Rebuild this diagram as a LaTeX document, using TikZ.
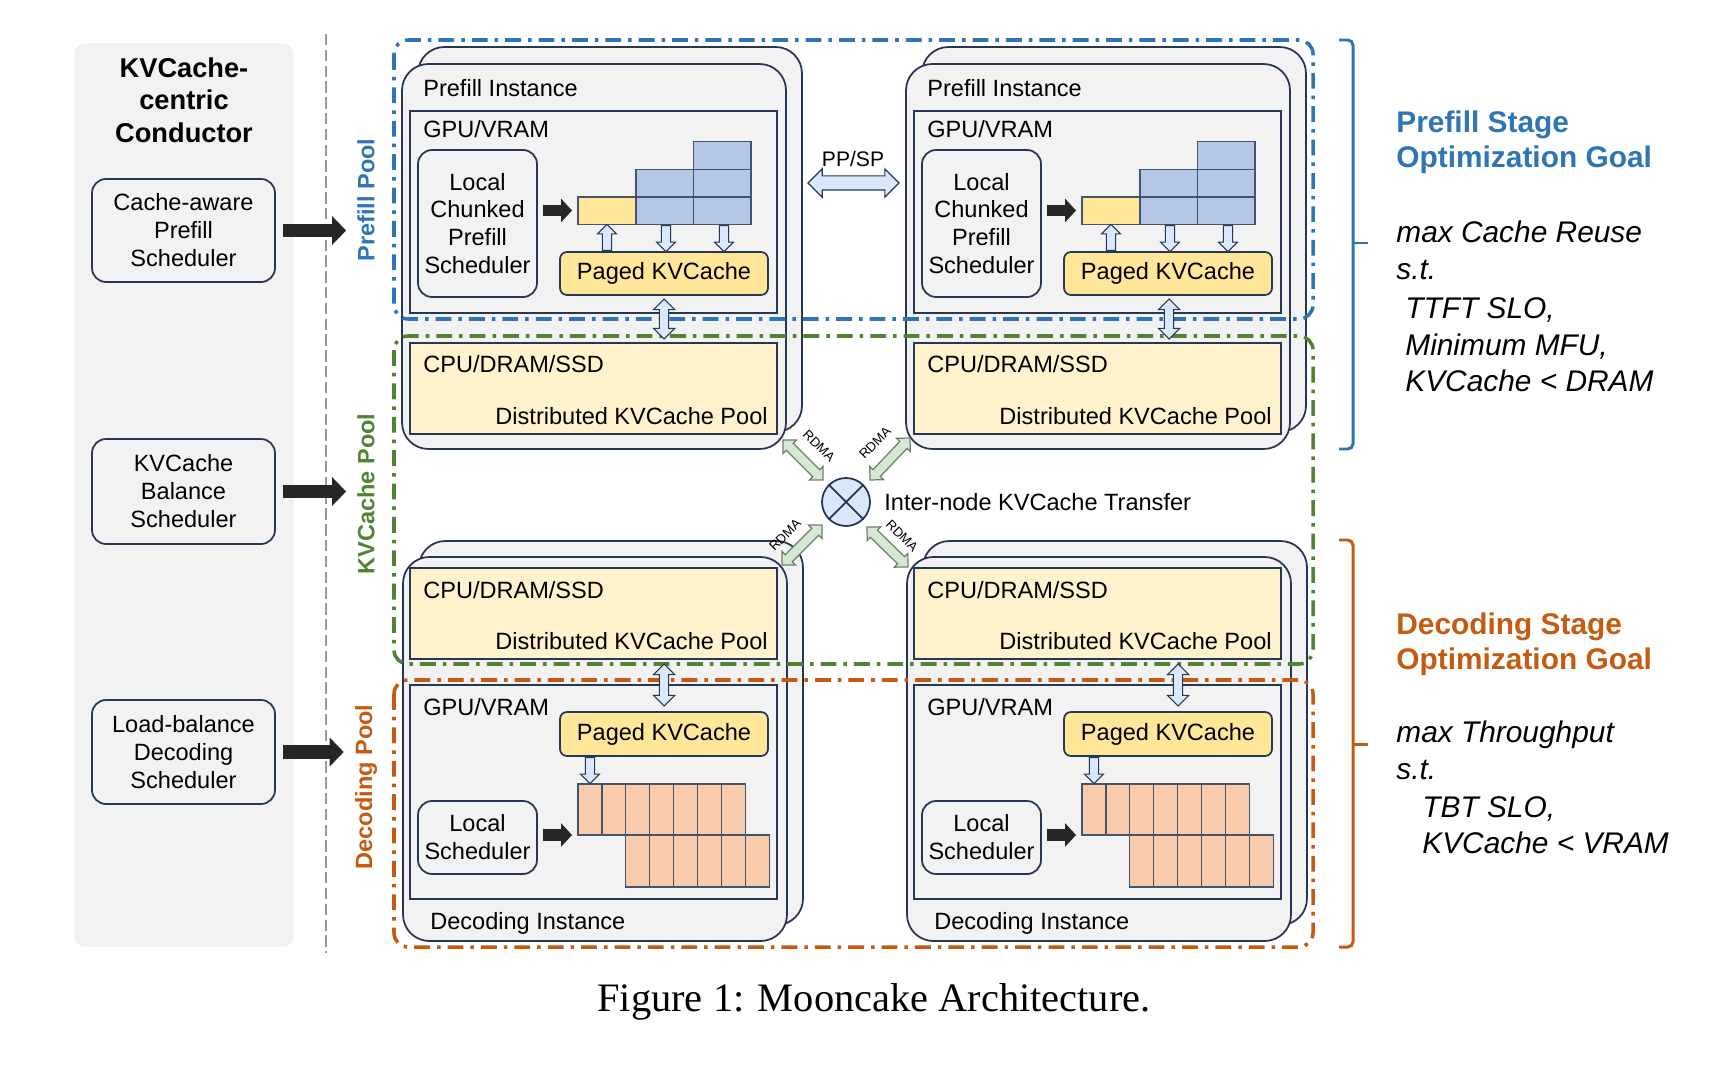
\documentclass[tikz,border=0pt]{standalone}
\usepackage{fontspec}
\setmainfont{Liberation Sans}
\newfontfamily\figcapfont{Liberation Serif}
\usetikzlibrary{positioning, calc, fit, shapes.arrows, arrows.meta}

\definecolor{navy}{HTML}{263653}
\definecolor{celledge}{HTML}{44546A}
\definecolor{cardgray}{HTML}{F2F2F2}
\definecolor{poolblue}{HTML}{2E75B6}
\definecolor{poolgreen}{HTML}{548235}
\definecolor{poolorange}{HTML}{C55A11}
\definecolor{dramyellow}{HTML}{FFF2CC}
\definecolor{pageyellow}{HTML}{FFE699}
\definecolor{blockblue}{HTML}{B4C7E7}
\definecolor{blockorange}{HTML}{F8CBAD}
\definecolor{arrowblue}{HTML}{DAE8FC}
\definecolor{arrowgreen}{HTML}{D5E8D4}
\definecolor{rdmaedge}{HTML}{6E7E6E}
\definecolor{darkarrow}{HTML}{262626}

\newcommand{\bodysize}{\fontsize{13.4}{15.9}\selectfont}
\newcommand{\goalsize}{\fontsize{17}{20}\selectfont}

% hollow arrow shapes laid between two named points
\newcommand{\fatlink}[3][]{\path let \p1=($(#3)-(#2)$), \n1={atan2(\y1,\x1)}, \n2={veclen(\x1,\y1)} in
  node[#1, rotate=\n1, minimum height=\n2] at ($(#2)!0.5!(#3)$) {};}
\newcommand{\fatpoint}[3][]{\path let \p1=($(#3)-(#2)$), \n1={atan2(\y1,\x1)}, \n2={veclen(\x1,\y1)} in
  node[#1, rotate=\n1, minimum height=\n2, anchor=tail] at (#2) {};}

\tikzset{
  panel/.style={draw=black!8, fill=cardgray, rounded corners=6pt},
  sepline/.style={draw=black!40, line width=0.6pt, dash pattern=on 6.5pt off 2.5pt},
  titlelbl/.style={inner sep=0pt, anchor=base, font=\fontsize{15.5}{18}\selectfont\bfseries},
  schedbox/.style={draw=navy, fill=cardgray, line width=1pt, rounded corners=8pt, inner sep=0pt},
  boxtext/.style={inner sep=0pt, align=center, font=\bodysize},
  card/.style={draw=navy, fill=cardgray, line width=1pt, rounded corners=15pt},
  membox/.style={draw=navy, fill=cardgray, line width=1pt, inner sep=0pt},
  drambox/.style={draw=navy, fill=dramyellow, line width=1pt, inner sep=0pt},
  pagebox/.style={draw=navy, fill=pageyellow, line width=1pt, rounded corners=4pt, inner sep=0pt},
  lbl/.style={inner sep=0pt, anchor=base west, font=\bodysize},
  kvcell/.style={draw=celledge, line width=0.7pt},
  bigarrow/.style={draw=darkarrow, line width=7.9pt, -{Triangle[width=16pt,length=8pt]}, shorten <=4pt, shorten >=6.2pt},
  innerarrow/.style={draw=darkarrow, line width=6.8pt, -{Triangle[width=13pt,length=6.2pt]}, shorten <=2.8pt, shorten >=3.4pt},
  poollbl/.style={rotate=90, inner sep=0pt, font=\fontsize{13.4}{16}\selectfont\bfseries},
  pool/.style={draw=#1, line width=2pt, rounded corners=8pt, dash pattern=on 9pt off 4pt on 2pt off 4pt},
  smallarrow/.style={single arrow, draw=navy, fill=arrowblue, line width=0.6pt, inner sep=2.3pt, single arrow head extend=2.7pt},
  vdouble/.style={double arrow, draw=navy, fill=arrowblue, line width=0.6pt, inner sep=2.3pt, double arrow head extend=3.4pt},
  ppdouble/.style={double arrow, draw=navy, fill=arrowblue, line width=0.7pt, inner sep=3.7pt, double arrow head extend=4pt},
  rdmaarrow/.style={double arrow, draw=rdmaedge, fill=arrowgreen, line width=0.7pt, inner sep=2.5pt, double arrow head extend=2.6pt},
  rdmalbl/.style={inner sep=0pt, font=\fontsize{7.5}{9}\selectfont},
  xnode/.style={circle, draw=navy, fill=arrowblue, line width=1pt, minimum size=0.96cm, inner sep=0pt},
  bracket/.style={draw=#1, line width=1.7pt, rounded corners=3pt},
  goalhead/.style={inner sep=0pt, anchor=base west, font=\goalsize\bfseries},
  goalline/.style={inner sep=0pt, anchor=base west, font=\goalsize\itshape},
}

\begin{document}
\begin{tikzpicture}[x=0.02cm, y=-0.02cm]
\useasboundingbox (0,0) rectangle (1726,1067);

% conductor
\draw[panel] (75,44) rectangle (293,946);
\node[titlelbl] (ttl1) at (184,78) {KVCache-};
\node[titlelbl] (ttl2) at (184,110) {centric};
\node[titlelbl] (ttl3) at (184,143) {Conductor};
\node[schedbox, fit={(92,179) (275,282)}] (cas) {};
\node[boxtext] (cast) at (cas.center) {Cache-aware\\Prefill\\Scheduler};
\node[schedbox, fit={(92,439) (275,544)}] (kbs) {};
\node[boxtext] (kbst) at (kbs.center) {KVCache\\Balance\\Scheduler};
\node[schedbox, fit={(92,700) (275,804)}] (lds) {};
\node[boxtext] (ldst) at (lds.center) {Load-balance\\Decoding\\Scheduler};
\draw[sepline] (326,34) -- (326,953);

% pools
\node[poollbl, text=poolblue] (ppool) at (366,200) {Prefill Pool};
\node[poollbl, text=poolgreen] (kpool) at (366,494) {KVCache Pool};
\node[poollbl, text=poolorange] (dpool) at (366,787) {Decoding Pool};
\draw[bigarrow] (cas.east) -- (cas.east -| ppool.north);
\draw[bigarrow] (kbs.east) -- (kbs.east -| kpool.north);
\draw[bigarrow] (lds.east) -- (lds.east -| dpool.north);

% prefill instances
\foreach \dx/\nm in {0/L, 504/R} {
  \draw[card] (418+\dx,47) rectangle (802+\dx,432);
  \draw[card] (402+\dx,64) rectangle (786+\dx,449);
  \node[lbl] (pin\nm) at (423+\dx,97) {Prefill Instance};
  \node[membox, fit={(410+\dx,111) (777+\dx,313)}] (gpu\nm) {};
  \node[lbl] (gput\nm) at (423+\dx,138) {GPU/VRAM};
  \node[schedbox, fit={(418+\dx,150) (537+\dx,297)}] (lcps\nm) {};
  \node[boxtext] (lcpst\nm) at (lcps\nm.center) {Local\\Chunked\\Prefill\\Scheduler};
  \draw[kvcell, fill=pageyellow] (578+\dx,197) rectangle (636+\dx,224.7);
  \foreach \cx/\cy in {636/169.3, 636/197, 693.5/141.6, 693.5/169.3, 693.5/197}
    \draw[kvcell, fill=blockblue] (\cx+\dx,\cy) rectangle ++(57.5,27.7);
  \coordinate (yw\nm) at (578+\dx,210.5);
  \draw[innerarrow] (yw\nm -| lcps\nm.east) -- (yw\nm);
  \node[pagebox, fit={(560+\dx,252) (768+\dx,295)}] (pk\nm) {};
  \node[boxtext] (pkt\nm) at (pk\nm.center) {Paged KVCache};
  \coordinate (ua\nm) at (607+\dx,251);
  \coordinate (ub\nm) at (607+\dx,225);
  \fatpoint[smallarrow]{ua\nm}{ub\nm}
  \coordinate (da\nm) at (666+\dx,225);
  \coordinate (db\nm) at (666+\dx,251);
  \fatpoint[smallarrow]{da\nm}{db\nm}
  \coordinate (ea\nm) at (724+\dx,225);
  \coordinate (eb\nm) at (724+\dx,251);
  \fatpoint[smallarrow]{ea\nm}{eb\nm}
  \node[drambox, fit={(410+\dx,343) (777+\dx,434)}] (cpu\nm) {};
  \node[lbl] (cput\nm) at (423+\dx,372) {CPU/DRAM/SSD};
  \node[lbl, anchor=base east] (dkv\nm) at (768+\dx,424.5) {Distributed KVCache Pool};
}

% decoding instances
\foreach \dx/\nm in {0/L, 504/R} {
  \draw[card] (419+\dx,541) rectangle (803+\dx,925);
  \draw[card] (403+\dx,557) rectangle (787+\dx,941);
  \node[drambox, fit={(410+\dx,568) (777+\dx,659)}] (dcpu\nm) {};
  \node[lbl] (dcput\nm) at (423+\dx,598) {CPU/DRAM/SSD};
  \node[lbl, anchor=base east] (ddkv\nm) at (768+\dx,649) {Distributed KVCache Pool};
  \node[membox, fit={(410+\dx,685) (777+\dx,899)}] (dgpu\nm) {};
  \node[lbl] (dgput\nm) at (423+\dx,715) {GPU/VRAM};
  \node[pagebox, fit={(560+\dx,712) (768+\dx,756)}] (dpk\nm) {};
  \node[boxtext] (dpkt\nm) at (dpk\nm.center) {Paged KVCache};
  \foreach \k in {0,...,6}
    \draw[kvcell, fill=blockorange] (578+\dx+\k*23.9,784) rectangle ++(23.9,51);
  \foreach \k in {0,...,5}
    \draw[kvcell, fill=blockorange] (625.8+\dx+\k*23.9,835) rectangle ++(23.9,52);
  \coordinate (fa\nm) at (590+\dx,757);
  \coordinate (fb\nm) at (590+\dx,783);
  \fatpoint[smallarrow]{fa\nm}{fb\nm}
  \node[schedbox, fit={(418+\dx,801) (537+\dx,874)}] (ls\nm) {};
  \node[boxtext] (lst\nm) at (ls\nm.center) {Local\\Scheduler};
  \coordinate (ow\nm) at (578+\dx,835);
  \draw[innerarrow] (ow\nm -| ls\nm.east) -- (ow\nm);
  \node[lbl] (din\nm) at (430+\dx,929) {Decoding Instance};
}

% pool borders
\draw[pool=poolblue] (394,40) rectangle (1313,319);
\draw[pool=poolgreen] (394,336) rectangle (1313,664);
\draw[pool=poolorange] (394,680) rectangle (1313,947);

% VRAM <-> DRAM
\foreach \nm/\ax in {L/664, R/1169} {
  \coordinate (va\nm) at (\ax,299);
  \coordinate (vb\nm) at (\ax,339);
  \fatlink[vdouble]{va\nm}{vb\nm}
}
\foreach \nm/\ax in {L/664, R/1178} {
  \coordinate (wa\nm) at (\ax,664);
  \coordinate (wb\nm) at (\ax,706);
  \fatlink[vdouble]{wa\nm}{wb\nm}
}

% PP/SP
\coordinate (pp1) at (808,183);
\coordinate (pp2) at (899,183);
\fatlink[ppdouble]{pp1}{pp2}
\node[inner sep=0pt, anchor=base, font=\fontsize{12}{14}\selectfont] (ppsp) at (853,167) {PP/SP};

% transfer hub
\node[xnode] (xc) at (846,502) {};
\draw[navy, line width=1pt] (xc.45) -- (xc.225) (xc.135) -- (xc.315);
\node[lbl] (xlbl) at (884,510) {Inter-node KVCache Transfer};
\coordinate (ul1) at (783,440); \coordinate (ul2) at (823,480);
\coordinate (ur1) at (910,438); \coordinate (ur2) at (870,480);
\coordinate (ll1) at (782,565); \coordinate (ll2) at (822,525);
\coordinate (lr1) at (908,567); \coordinate (lr2) at (867,527);
\fatlink[rdmaarrow]{ul1}{ul2}
\fatlink[rdmaarrow]{ur1}{ur2}
\fatlink[rdmaarrow]{ll1}{ll2}
\fatlink[rdmaarrow]{lr1}{lr2}
\node[rdmalbl, rotate=-45] (rdul) at (819,446) {RDMA};
\node[rdmalbl, rotate=45] (rdur) at (875,443) {RDMA};
\node[rdmalbl, rotate=45] (rdll) at (785,535) {RDMA};
\node[rdmalbl, rotate=-45] (rdlr) at (902,536) {RDMA};

% goals
\draw[bracket=poolblue] (1339,40) -- (1353,40) -- (1353,449) -- (1339,449);
\draw[bracket=poolblue] (1353,243) -- (1368,243);
\draw[bracket=poolorange] (1339,540) -- (1353,540) -- (1353,947) -- (1339,947);
\draw[bracket=poolorange] (1353,744) -- (1368,744);
\node[goalhead, text=poolblue] (pgh1) at (1396,133) {Prefill Stage};
\node[goalhead, text=poolblue] (pgh2) at (1396,168) {Optimization Goal};
\foreach \tx/\xx/\yy [count=\i] in {max Cache Reuse/1396/243, s.t./1396/280, {TTFT SLO,}/1405/318, {Minimum MFU,}/1405/355, KVCache < DRAM/1405/391}
  \node[goalline] (pg\i) at (\xx,\yy) {\tx};
\node[goalhead, text=poolorange] (dgh1) at (1396,634) {Decoding Stage};
\node[goalhead, text=poolorange] (dgh2) at (1396,669) {Optimization Goal};
\foreach \tx/\xx/\yy [count=\i] in {max Throughput/1396/742, s.t./1396/779, {TBT SLO,}/1422/817, KVCache < VRAM/1422/853}
  \node[goalline] (dg\i) at (\xx,\yy) {\tx};

% caption
\node[inner sep=0pt, anchor=base, font=\figcapfont\fontsize{23}{28}\selectfont] (cap) at (874,1011) {Figure 1: Mooncake Architecture.};
\end{tikzpicture}
\end{document}
